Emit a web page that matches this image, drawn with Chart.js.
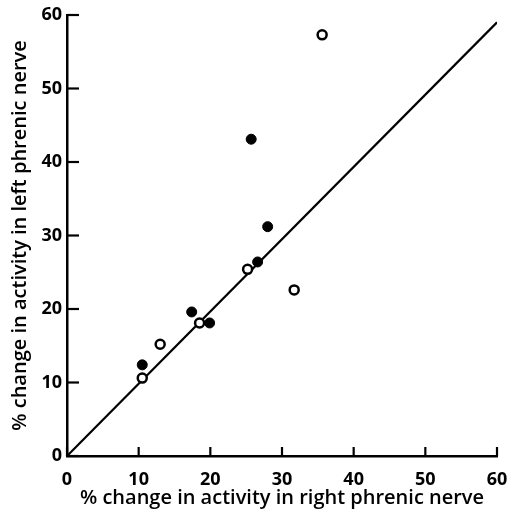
<!DOCTYPE html>
<html>
<head>
<meta charset="utf-8">
<script src="https://cdn.jsdelivr.net/npm/chart.js@4"></script>
<style>
  html, body { margin: 0; padding: 0; background: #fff; }
  #wrap { width: 508px; height: 513px; }
</style>
</head>
<body>
<div id="wrap"><canvas id="myScatter" width="508" height="513"></canvas></div>
<script>
// right phrenic (x) vs left phrenic (y), % change
const openX = [35.6, 25.2, 31.7, 18.5, 13.0, 10.5];
const openY = [57.3, 25.4, 22.6, 18.1, 15.2, 10.6];
const filledX = [25.7, 28.0, 26.6, 17.4, 19.9, 10.5];
const filledY = [43.1, 31.2, 26.4, 19.6, 18.1, 12.4];
const lineX = [0, 60];
const lineY = [0, 59];
const tickValues = [0, 10, 20, 30, 40, 50, 60];

const toPoints = (xs, ys) => xs.map((x, i) => ({ x: x, y: ys[i] }));

// inward tick marks
const inwardTicks = {
    id: "inwardTicks",
    afterDatasetsDraw(chart) {
        const ctx = chart.ctx;
        const xs = chart.scales.x, ys = chart.scales.y;
        const area = chart.chartArea;
        ctx.save();
        ctx.strokeStyle = "#000";
        ctx.lineWidth = 2.2;
        for (const v of tickValues) {
            const py = ys.getPixelForValue(v);
            ctx.beginPath();
            ctx.moveTo(area.left, py);
            ctx.lineTo(area.left + 12, py);
            ctx.stroke();
            const px = xs.getPixelForValue(v);
            ctx.beginPath();
            ctx.moveTo(px, area.bottom);
            ctx.lineTo(px, area.bottom - 9);
            ctx.stroke();
        }
        ctx.restore();
    }
};

const tickFont = { family: "'Open Sans', sans-serif", size: 18, weight: "700" };
const titleFont = { family: "'Open Sans', sans-serif", size: 20, weight: "600" };

new Chart(document.getElementById("myScatter").getContext("2d"), {
    type: "scatter",
    data: {
        datasets: [
            {
                label: "line",
                data: toPoints(lineX, lineY),
                showLine: true,
                borderColor: "#000",
                borderWidth: 2.2,
                pointRadius: 0,
                order: 3,
            },
            {
                label: "open",
                data: toPoints(openX, openY),
                backgroundColor: "#fff",
                borderColor: "#000",
                borderWidth: 2.5,
                pointRadius: 4.5,
                order: 1,
            },
            {
                label: "filled",
                data: toPoints(filledX, filledY),
                backgroundColor: "#000",
                borderColor: "#000",
                borderWidth: 1,
                pointRadius: 5,
                order: 2,
            },
        ],
    },
    options: {
        responsive: false,
        animation: false,
        layout: { padding: { top: 15, right: 0, left: 0, bottom: 0 } },
        plugins: {
            legend: { display: false },
            tooltip: { enabled: false },
        },
        scales: {
            x: {
                type: "linear",
                min: 0,
                max: 60,
                afterFit: s => { s.height = 57; s.paddingRight = 11; s.paddingLeft = 0; },
                grid: { display: false, drawTicks: false },
                border: { color: "#000", width: 2.5 },
                ticks: { stepSize: 10, color: "#000", font: tickFont, padding: 13, maxRotation: 0 },
                title: {
                    display: true,
                    text: "% change in activity in right phrenic nerve",
                    color: "#000",
                    font: titleFont,
                    padding: { top: 0, bottom: 3 },
                },
            },
            y: {
                type: "linear",
                min: 0,
                max: 60,
                afterFit: s => { s.width = 67; s.paddingTop = 0; s.paddingBottom = 0; },
                grid: { display: false, drawTicks: false },
                border: { color: "#000", width: 2.5 },
                ticks: { stepSize: 10, color: "#000", font: tickFont, padding: 5 },
                title: {
                    display: true,
                    text: "% change in activity in left phrenic nerve",
                    color: "#000",
                    font: titleFont,
                    padding: { top: 8, bottom: 0 },
                },
            },
        },
    },
    plugins: [inwardTicks],
});
</script>
</body>
</html>
